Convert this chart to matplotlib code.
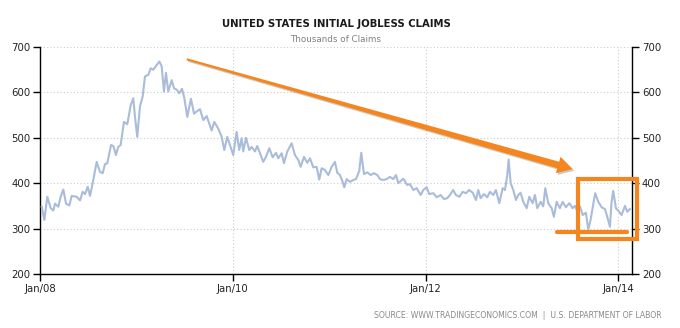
import matplotlib
matplotlib.use("Agg")
import matplotlib.pyplot as plt
import numpy as np
from matplotlib.patches import Polygon, Rectangle
from matplotlib import patheffects

# initial jobless claims, thousands (time as decimal year)
t_2008 = [2008.018, 2008.045, 2008.076, 2008.111, 2008.138, 2008.156, 2008.190, 2008.214,
          2008.242, 2008.270, 2008.304, 2008.329, 2008.381, 2008.415, 2008.443, 2008.467,
          2008.495, 2008.519, 2008.553, 2008.588, 2008.622, 2008.650, 2008.674, 2008.698,
          2008.737, 2008.761, 2008.788, 2008.812, 2008.837, 2008.871, 2008.906, 2008.941,
          2008.968, 2008.985, 2009.009, 2009.037, 2009.065, 2009.089, 2009.124, 2009.148,
          2009.175, 2009.203, 2009.238, 2009.262, 2009.286, 2009.307, 2009.331, 2009.366,
          2009.390, 2009.418, 2009.445, 2009.473, 2009.497, 2009.528, 2009.566, 2009.598,
          2009.625, 2009.660, 2009.694, 2009.729, 2009.781, 2009.808, 2009.850, 2009.885,
          2009.912, 2009.943, 2009.971]
k_2008 = [348, 319, 370, 345, 340, 355, 348, 370, 386, 355, 351, 372, 370, 362, 381, 376,
          392, 372, 407, 447, 425, 422, 442, 444, 484, 482, 462, 480, 484, 535, 530, 572,
          587, 547, 502, 569, 591, 635, 639, 653, 650, 658, 668, 658, 602, 643, 602, 627,
          609, 606, 598, 608, 588, 546, 586, 553, 558, 563, 539, 548, 516, 535, 520, 502,
          473, 502, 484]

t_2010 = [2010.005, 2010.040, 2010.067, 2010.092, 2010.109, 2010.137, 2010.171, 2010.196,
          2010.230, 2010.254, 2010.289, 2010.316, 2010.344, 2010.379, 2010.414, 2010.448,
          2010.472, 2010.507, 2010.531, 2010.566, 2010.611, 2010.645, 2010.680, 2010.704,
          2010.739, 2010.773, 2010.801, 2010.835, 2010.870, 2010.897, 2010.922, 2010.956,
          2010.991, 2011.026, 2011.060, 2011.084, 2011.112, 2011.140, 2011.157, 2011.181,
          2011.216, 2011.250, 2011.278, 2011.312, 2011.333, 2011.361, 2011.395, 2011.430,
          2011.465, 2011.499, 2011.527, 2011.561, 2011.597, 2011.631, 2011.665, 2011.693,
          2011.717]
k_2010 = [462, 513, 473, 499, 470, 500, 473, 480, 470, 482, 462, 447, 458, 477, 457, 467,
          455, 466, 444, 470, 488, 462, 451, 436, 458, 445, 455, 435, 436, 408, 433, 429,
          418, 436, 447, 423, 418, 403, 391, 409, 403, 407, 409, 427, 467, 420, 424, 418,
          422, 418, 409, 407, 409, 414, 409, 418, 400]

t_2012 = [2011.769, 2011.810, 2011.838, 2011.873, 2011.908, 2011.949, 2011.976, 2012.011,
          2012.038, 2012.080, 2012.115, 2012.157, 2012.191, 2012.225, 2012.253, 2012.287,
          2012.315, 2012.350, 2012.385, 2012.419, 2012.453, 2012.489, 2012.523, 2012.547,
          2012.572, 2012.606, 2012.640, 2012.668, 2012.703, 2012.730, 2012.765, 2012.800,
          2012.824, 2012.848, 2012.862, 2012.883, 2012.910, 2012.938, 2012.962, 2012.986,
          2013.014, 2013.049, 2013.076, 2013.111, 2013.135, 2013.159, 2013.194, 2013.221,
          2013.242, 2013.273, 2013.308, 2013.332, 2013.360, 2013.394, 2013.422, 2013.456,
          2013.491, 2013.526, 2013.550, 2013.574, 2013.602, 2013.630, 2013.664, 2013.688,
          2013.712, 2013.733, 2013.760, 2013.792, 2013.827, 2013.861, 2013.885, 2013.913,
          2013.930, 2013.947, 2013.975, 2014.009, 2014.034, 2014.069, 2014.093, 2014.120]
k_2012 = [410, 396, 398, 385, 389, 374, 385, 391, 376, 378, 369, 374, 365, 367, 374, 385,
          374, 370, 381, 378, 385, 379, 363, 385, 367, 376, 369, 381, 374, 385, 356, 389,
          385, 418, 452, 400, 385, 363, 374, 379, 359, 345, 370, 356, 374, 345, 359, 349,
          389, 356, 345, 326, 359, 345, 359, 347, 356, 345, 350, 339, 349, 330, 335, 298,
          319, 345, 378, 359, 347, 343, 326, 304, 359, 383, 345, 337, 330, 350, 337, 343]

year_ticks = [2008, 2010, 2012, 2014]
year_labels = ["Jan/08", "Jan/10", "Jan/12", "Jan/14"]
y_ticks = [200, 300, 400, 500, 600, 700]

ORANGE = "#f5861f"
LINE = "#a9bcd9"

t = np.array(t_2008 + t_2010 + t_2012)
k = np.array(k_2008 + k_2010 + k_2012)

fig = plt.figure(figsize=(6.8, 3.28), dpi=100)
ax = fig.add_axes([40 / 680, 54 / 328, 592.3 / 680, 227 / 328])

ax.plot(t, k, color=LINE, lw=1.5, solid_joinstyle="round", zorder=3)

ax.set_xlim(2008.0, 2014.145)
ax.set_ylim(200, 700)
ax.set_xticks(year_ticks)
ax.set_xticklabels(year_labels)
ax.set_yticks(y_ticks)

ax.tick_params(axis="both", direction="out", length=5, width=1, color="black",
               labelsize=7.3, labelcolor="#222222", pad=2)
ax.tick_params(axis="y", right=True, labelright=True)

for side in ["left", "right", "bottom"]:
    ax.spines[side].set_color("black")
    ax.spines[side].set_linewidth(1)
ax.spines["top"].set_visible(False)

for y in y_ticks[1:]:
    ax.axhline(y, color="#cccccc", lw=0.8, ls=(0, (1, 2)), zorder=1)
for x in year_ticks[1:]:
    ax.axvline(x, color="#cccccc", lw=0.8, ls=(0, (1, 2)), zorder=1)

# tapered trend arrow, built in pixel space then mapped back to data
tail = ax.transData.transform((2009.522, 673))
tip = ax.transData.transform((2013.526, 431))
d = tip - tail
u = d / np.hypot(*d)
n = np.array([-u[1], u[0]])
head_len, head_w, w0, w1 = 15, 8.5, 1.0, 3.4
base = tip - u * head_len
pts_px = [tail + n * w0, base + n * w1, base + n * head_w, tip,
          base - n * head_w, base - n * w1, tail - n * w0]
pts = ax.transData.inverted().transform(pts_px)
arrow = Polygon(pts, closed=True, facecolor=ORANGE, edgecolor="none", zorder=5,
                clip_on=False)
arrow.set_path_effects([patheffects.SimplePatchShadow(offset=(1.2, -1.2), alpha=0.25),
                        patheffects.Normal()])
ax.add_patch(arrow)

# box around the latest readings and the floor line
box = Rectangle((2013.581, 276.4), 2014.193 - 2013.581, 410 - 276.4, fill=False,
                edgecolor=ORANGE, lw=3, joinstyle="miter", zorder=5, clip_on=False)
ax.add_patch(box)
ax.plot([2013.360, 2014.086], [292, 292], color=ORANGE, lw=3, solid_capstyle="round",
        zorder=5, clip_on=False)

fig.text(336 / 680, 1 - 24 / 328, "UNITED STATES INITIAL JOBLESS CLAIMS", ha="center",
         va="center", fontsize=7.3, fontweight="bold", color="#1a1a1a")
fig.text(336 / 680, 1 - 40 / 328, "Thousands of Claims", ha="center", va="center",
         fontsize=6.3, color="#808080")
fig.text(662 / 680, 1 - 316 / 328,
         "SOURCE: WWW.TRADINGECONOMICS.COM  |  U.S. DEPARTMENT OF LABOR",
         ha="right", va="center", fontsize=5.6, color="#8a8a8a")

fig.savefig("out.png", dpi=100)
